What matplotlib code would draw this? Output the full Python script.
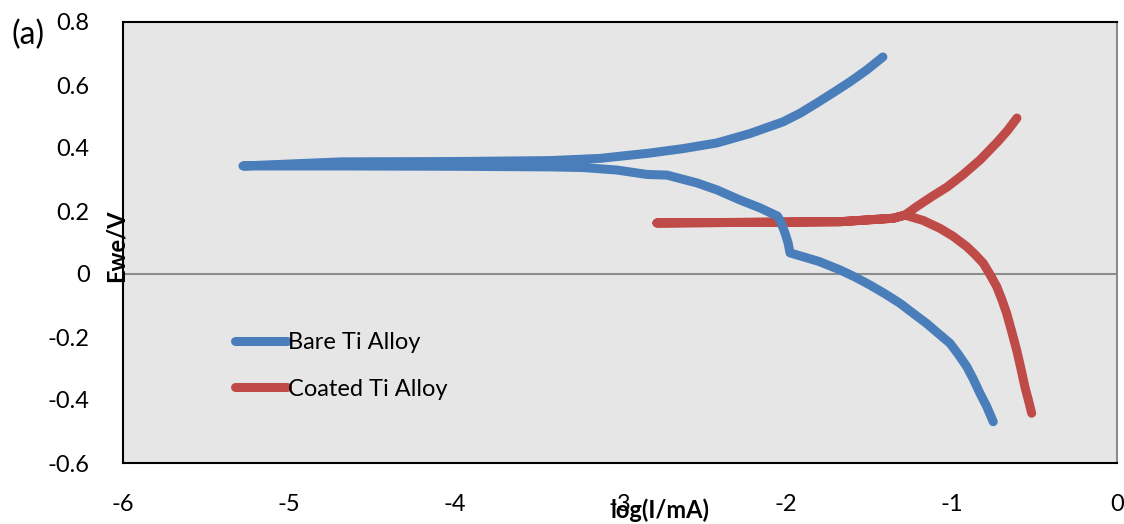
import matplotlib.pyplot as plt

plt.rcParams['font.family'] = ['Lato', 'DejaVu Sans']
plt.rcParams['axes.unicode_minus'] = False

# Bare alloy: cathodic branch (bottom -> corrosion potential), then anodic branch
bare_logi = [-0.747, -0.787, -0.827, -0.867, -0.907, -0.958, -1.008, -1.08, -1.149, -1.23,
             -1.31, -1.40, -1.491, -1.58, -1.672, -1.80, -1.974, -1.985, -2.004, -2.034,
             -2.05, -2.155, -2.276, -2.415, -2.535, -2.716, -2.837, -3.018, -3.223, -3.42,
             -4.0, -4.68, -5.276,
             -4.68, -4.0, -3.42, -3.121, -2.819, -2.62, -2.415, -2.215, -2.016, -1.911,
             -1.811, -1.712, -1.612, -1.51, -1.413]
bare_E = [-0.469, -0.420, -0.379, -0.334, -0.294, -0.255, -0.220, -0.188, -0.157, -0.125,
          -0.093, -0.063, -0.035, -0.010, 0.013, 0.040, 0.067, 0.098, 0.130, 0.171,
          0.184, 0.210, 0.235, 0.267, 0.289, 0.314, 0.316, 0.330, 0.338, 0.340,
          0.342, 0.343, 0.343,
          0.356, 0.357, 0.360, 0.367, 0.384, 0.398, 0.416, 0.446, 0.483, 0.511,
          0.543, 0.576, 0.610, 0.648, 0.689]

# Coated alloy: cathodic branch, plateau, anodic branch
coat_logi = [-0.515, -0.535, -0.556, -0.58, -0.606, -0.636, -0.666, -0.696, -0.726, -0.766,
             -0.807, -0.857, -0.907, -0.99, -1.069, -1.17, -1.28, -1.35, -1.672, -2.2,
             -2.777,
             -2.2, -1.672, -1.35, -1.28, -1.209, -1.12, -1.026, -0.93, -0.827, -0.72,
             -0.66, -0.604]
coat_E = [-0.442, -0.400, -0.358, -0.300, -0.241, -0.182, -0.125, -0.080, -0.040, -0.002,
          0.034, 0.062, 0.087, 0.120, 0.145, 0.170, 0.187, 0.177, 0.166, 0.164,
          0.162,
          0.164, 0.166, 0.177, 0.187, 0.214, 0.245, 0.276, 0.315, 0.362, 0.420,
          0.456, 0.495]

fig = plt.figure(figsize=(11.24, 5.24), dpi=100)
ax = fig.add_axes([123 / 1124, 61 / 524, 994 / 1124, 441 / 524])
ax.set_facecolor('#e6e6e6')

ax.axhline(0, color='#8c8c8c', lw=1.5, zorder=1)
ax.plot(bare_logi, bare_E, color='#4a7ebb', lw=6.5, solid_capstyle='round',
        solid_joinstyle='round', label='Bare Ti Alloy', zorder=3)
ax.plot(coat_logi, coat_E, color='#be4b48', lw=6.5, solid_capstyle='round',
        solid_joinstyle='round', label='Coated Ti Alloy', zorder=2)

ax.set_xlim(-6, 0)
ax.set_ylim(-0.6, 0.8)
ax.set_xticks(range(-6, 1))
ax.set_yticks([-0.6, -0.4, -0.2, 0, 0.2, 0.4, 0.6, 0.8])
ax.set_yticklabels(['-0.6', '-0.4', '-0.2', '0', '0.2', '0.4', '0.6', '0.8'])
ax.tick_params(length=0, labelsize=17)
ax.tick_params(axis='x', pad=22)
ax.tick_params(axis='y', pad=24)

for side in ['left', 'top', 'bottom']:
    ax.spines[side].set_color('black')
    ax.spines[side].set_linewidth(1.5)
ax.spines['right'].set_color('#8c8c8c')
ax.spines['right'].set_linewidth(1.5)

leg = ax.legend(loc='lower left', bbox_to_anchor=(0.103, 0.122), frameon=False,
                fontsize=17, handlelength=2.2, handletextpad=0.05, labelspacing=1.1,
                borderaxespad=0)

fig.text(116 / 1124, 1 - 246 / 524, 'Ewe/V', rotation=90, fontsize=17,
         fontweight='bold', ha='center', va='center')
fig.text(660 / 1124, 1 - 510 / 524, 'log(I/mA)', fontsize=17,
         fontweight='bold', ha='center', va='center')
fig.text(28 / 1124, 1 - 35 / 524, '(a)', fontsize=23, ha='center', va='center')

fig.savefig('out.png', dpi=100)
